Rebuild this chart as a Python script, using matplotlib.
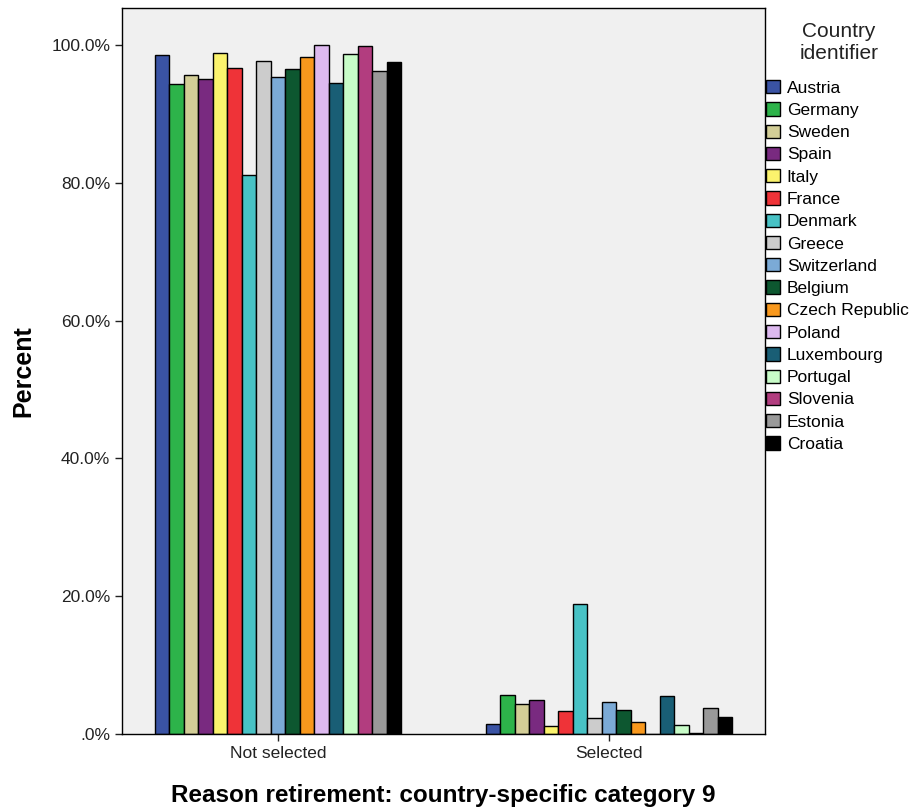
import numpy as np
import matplotlib
matplotlib.use("Agg")
import matplotlib.pyplot as plt
from matplotlib.patches import Patch

plt.rcParams['font.family'] = ['Liberation Sans', 'DejaVu Sans']

categories = ["Not selected", "Selected"]
countries = ["Austria", "Germany", "Sweden", "Spain", "Italy", "France", "Denmark",
             "Greece", "Switzerland", "Belgium", "Czech Republic", "Poland",
             "Luxembourg", "Portugal", "Slovenia", "Estonia", "Croatia"]
not_selected = [98.6, 94.3, 95.6, 95.1, 98.8, 96.7, 81.2, 97.7, 95.3, 96.5,
                98.3, 100.0, 94.5, 98.7, 99.8, 96.2, 97.5]
selected = [1.4, 5.7, 4.4, 4.9, 1.2, 3.3, 18.8, 2.3, 4.7, 3.5,
            1.7, 0.0, 5.5, 1.3, 0.2, 3.8, 2.5]
colors = ["#3A53A4", "#2DB34A", "#D3CE97", "#792A80", "#FBF36D", "#EF3338",
          "#48C2C5", "#CCCCCC", "#7BAAD6", "#0D5730", "#F8981D", "#DDB9EF",
          "#195E75", "#C8FCC8", "#B23D7F", "#999999", "#000000"]

fig = plt.figure(figsize=(9.14, 8.10), dpi=100)
ax = fig.add_axes([122 / 914, 76 / 810, 643 / 914, 726 / 810])
ax.set_facecolor("#F0F0F0")

n = len(countries)
w = 0.0438
x = np.arange(len(categories))
for i, (name, c) in enumerate(zip(countries, colors)):
    vals = [not_selected[i], selected[i]]
    off = (i - (n - 1) / 2) * w
    ax.bar(x + off, vals, width=w, color=c, edgecolor="black", linewidth=1.0)

ax.set_xlim(-0.471, 1.471)
ax.set_ylim(0, 100 * (734 - 8) / 689)
ax.set_xticks(x)
ax.set_xticklabels(categories, fontsize=12.5)
yt = [0, 20, 40, 60, 80, 100]
ax.set_yticks(yt)
ax.set_yticklabels([".0%", "20.0%", "40.0%", "60.0%", "80.0%", "100.0%"], fontsize=12.5)
ax.tick_params(direction="out", length=5, width=1, colors="#222222")
for s in ax.spines.values():
    s.set_color("black")
    s.set_linewidth(1)

ax.set_ylabel("Percent", fontsize=18, fontweight="bold", labelpad=11.5)
ax.set_xlabel("Reason retirement: country-specific category 9", fontsize=17.5,
              fontweight="bold", labelpad=16.5)

# legend title drawn separately so the gap above the entries matches
fig.text(839 / 914, 1 - 42.5 / 810, "Country\nidentifier", fontsize=15, color="#222222",
         ha="center", va="center", multialignment="center", linespacing=1.2)
handles = [Patch(facecolor=c, edgecolor="black", label=name)
           for name, c in zip(countries, colors)]
leg = fig.legend(handles=handles, loc="upper left", bbox_to_anchor=(766 / 914, 1 - 80 / 810),
                 frameon=False, fontsize=12.5,
                 handlelength=0.8, handleheight=0.8, handletextpad=0.4,
                 labelspacing=0.38, borderaxespad=0, borderpad=0)

fig.savefig("out.png", dpi=100)
